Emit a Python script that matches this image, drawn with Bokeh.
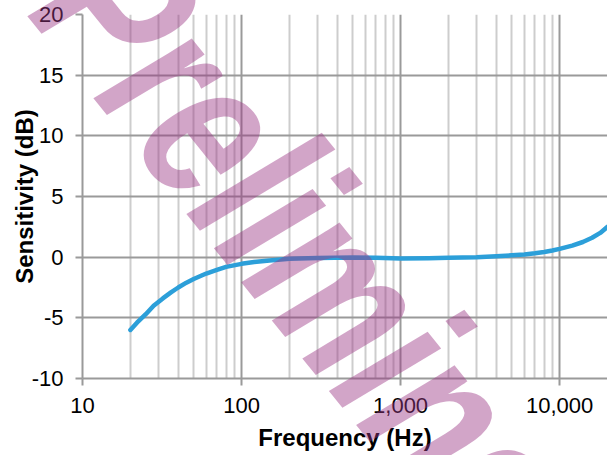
from bokeh.plotting import figure
from bokeh.models import Range1d, FixedTicker, NumeralTickFormatter, Label
from bokeh.layouts import column
from bokeh.embed import file_html
from bokeh.resources import INLINE

# ---- data ----
freq_hz = [20, 22, 25, 28, 32, 36, 40, 45, 50, 60, 70, 80, 100, 120, 150, 200,
           300, 500, 700, 1000, 1500, 2000, 3000, 4000, 5000, 6000, 7000, 8000,
           9000, 10000, 12000, 14000, 16000, 18000, 20000]
sensitivity_db = [-6.0, -5.4, -4.7, -4.0, -3.4, -2.9, -2.5, -2.1, -1.8, -1.35,
                  -1.05, -0.8, -0.55, -0.4, -0.27, -0.14, -0.07, -0.03, -0.05,
                  -0.1, -0.08, -0.05, 0.0, 0.08, 0.15, 0.22, 0.32, 0.43, 0.55,
                  0.68, 0.95, 1.25, 1.6, 2.0, 2.5]
x_major_ticks = [10, 100, 1000, 10000]
y_ticks = [-10, -5, 0, 5, 10, 15, 20]
watermark_text = "Preliminary"

GRID = "#9a9a9a"
MINOR = "#cdcdcd"
FONT = "Liberation Sans"
W, H = 607, 455

p = figure(width=W, height=H, x_axis_type="log",
           x_range=Range1d(10, 20000), y_range=Range1d(-10, 20),
           output_backend="svg", toolbar_location=None,
           min_border_left=82, min_border_right=0, min_border_top=14,
           min_border_bottom=77)
p.outline_line_color = None
p.background_fill_color = "white"
p.border_fill_color = "white"

minor = [m * d for d in [10, 100, 1000, 10000] for m in range(2, 10) if m * d <= 20000]
p.xaxis.ticker = FixedTicker(ticks=x_major_ticks, minor_ticks=minor)
p.xaxis.formatter = NumeralTickFormatter(format="0,0")
p.yaxis.ticker = FixedTicker(ticks=y_ticks)
p.yaxis.formatter = NumeralTickFormatter(format="0")

for ax in (p.xaxis[0], p.yaxis[0]):
    ax.axis_line_color = GRID
    ax.axis_line_width = 2
    ax.major_tick_line_color = GRID
    ax.major_tick_line_width = 2
    ax.major_tick_in = 0
    ax.major_tick_out = 7
    ax.minor_tick_line_color = None
    ax.major_label_text_font = FONT
    ax.major_label_text_font_size = "22px"
    ax.major_label_text_color = "black"
    ax.axis_label_text_font = FONT
    ax.axis_label_text_font_style = "bold"
    ax.axis_label_text_font_size = "24px"
    ax.axis_label_text_color = "black"

p.xaxis.axis_label = "Frequency (Hz)"
p.yaxis.axis_label = "Sensitivity (dB)"
p.xaxis.major_label_standoff = 12
p.yaxis.major_label_standoff = 12
p.xaxis.axis_label_standoff = 8
p.yaxis.axis_label_standoff = -9

p.xgrid.grid_line_color = GRID
p.xgrid.grid_line_width = 2
p.xgrid.minor_grid_line_color = MINOR
p.xgrid.minor_grid_line_width = 2
p.ygrid.grid_line_color = GRID
p.ygrid.grid_line_width = 2

p.line(freq_hz, sensitivity_db, line_color="#2C9FD9", line_width=4.5,
       line_cap="round", line_join="round")

# ---- transparent overlay carrying the slanted watermark ----
F = 90                        # font size of the watermark (px)
base_vec = (98.5, 122.5)      # page offset per em along the baseline
up_vec = (186.9, -112.3)      # page offset per em along the letters' height
a, b = base_vec[0] / F, base_vec[1] / F
c, d = -up_vec[0] / F, -up_vec[1] / F
pen_x, pen_y = 92, 79         # pen origin inside the overlay canvas
u_max, w_max = 314, 12        # visible extent past the pen (keeps it on-page)
target = (15.0, 11.0)         # where the pen origin lands on the page
left = target[0] - (a * pen_x + c * pen_y)
top = target[1] - (b * pen_x + d * pen_y)

ov = figure(width=pen_x + u_max, height=pen_y + w_max, x_range=Range1d(0, 1),
            y_range=Range1d(0, 1), output_backend="svg", toolbar_location=None,
            x_axis_location=None, y_axis_location=None,
            min_border_left=0, min_border_right=0, min_border_top=0,
            min_border_bottom=0, outline_line_color=None)
ov.grid.visible = False
ov.background_fill_alpha = 0
ov.border_fill_alpha = 0
ov.styles = {"position": "absolute", "top": f"{top:.1f}px", "left": f"{left:.1f}px",
             "transform": f"matrix({a:.5f},{b:.5f},{c:.5f},{d:.5f},0,0)",
             "transform-origin": "0 0", "pointer-events": "none"}
wm = Label(x=pen_x, y=pen_y - 0.38 * F, x_units="canvas", y_units="canvas",
           text=watermark_text, angle=0,
           text_font=FONT, text_font_style="bold", text_font_size=f"{F}px",
           text_color="#9C3886", text_alpha=0.45,
           text_align="left", text_baseline="alphabetic")
ov.add_layout(wm)

layout = column(p, ov)
open("out.html", "w").write(file_html(layout, INLINE))
